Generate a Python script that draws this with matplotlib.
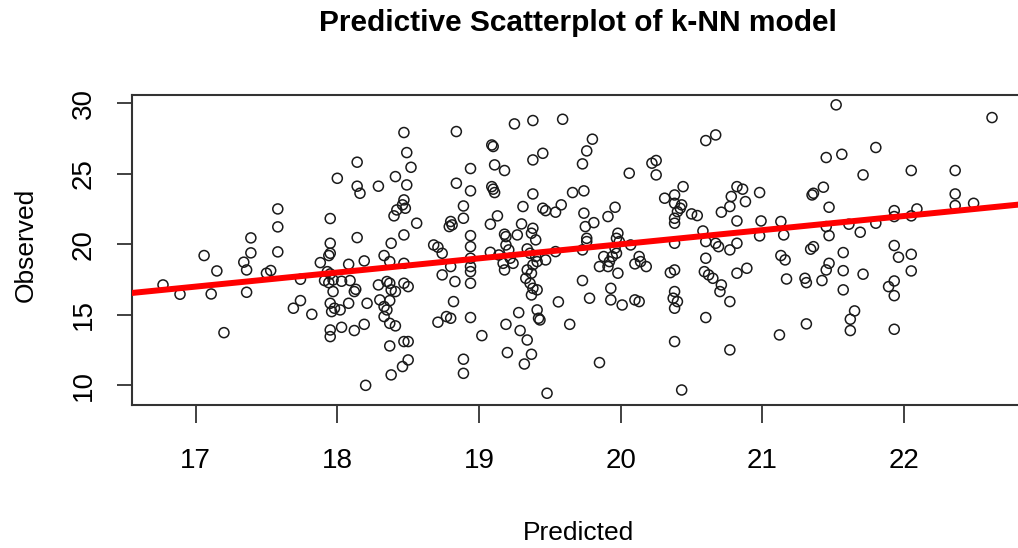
import numpy as np
import matplotlib
matplotlib.use("Agg")
import matplotlib.pyplot as plt

# -----------------------------------------------------------------------------
# Data (predicted vs observed), grouped by x band
# -----------------------------------------------------------------------------
pred_a = [16.77, 16.89, 17.06, 17.15, 17.11, 17.20, 17.34, 17.36, 17.39, 17.39,
          17.36, 17.50, 17.53, 17.58, 17.58, 17.58]
obs_a = [17.12, 16.46, 19.20, 18.11, 16.48, 13.74, 18.73, 18.18, 20.45, 19.39,
         16.60, 17.95, 18.14, 22.50, 21.23, 19.46]

pred_b = [18.47, 18.49, 18.52, 18.14, 18.00, 18.14, 18.16, 18.29, 18.41, 18.49,
          18.47, 18.46, 18.42, 18.40, 18.48, 18.56, 17.95, 18.14, 18.47, 18.38,
          17.95, 17.95, 17.94, 17.88, 18.08, 18.19, 18.33, 18.37, 18.47, 17.74,
          17.93, 17.95, 17.91, 17.94, 17.97, 18.03, 18.09, 18.13, 18.12, 17.97,
          17.95, 17.98, 18.02, 18.08, 17.96, 17.69, 17.74, 17.82, 18.21, 18.29,
          18.30, 18.35, 18.37, 18.38, 18.37, 18.33, 18.35, 18.41, 18.47, 18.50,
          18.33, 18.37, 18.41, 17.95, 17.95, 18.03, 18.12, 18.19, 18.37, 18.47,
          18.50, 18.50, 18.46, 18.38, 18.20]
obs_b = [27.91, 26.49, 25.45, 25.81, 24.67, 24.11, 23.61, 24.11, 24.79, 24.20,
         23.14, 22.79, 22.43, 22.01, 22.55, 21.49, 21.82, 20.47, 20.66, 20.07,
         20.07, 19.36, 19.20, 18.70, 18.58, 18.82, 19.20, 18.77, 18.65, 17.52,
         18.06, 17.90, 17.43, 17.28, 17.47, 17.38, 17.43, 16.81, 16.65, 16.65,
         15.82, 15.47, 15.35, 15.82, 15.23, 15.47, 16.01, 15.04, 15.82, 17.12,
         16.06, 17.36, 17.24, 16.77, 16.01, 15.59, 15.35, 16.65, 17.24, 17.00,
         14.88, 14.40, 14.22, 13.93, 13.46, 14.12, 13.89, 14.33, 12.80, 13.11,
         13.11, 11.81, 11.34, 10.75, 10.01]

pred_c = [18.84, 19.09, 19.10, 19.25, 19.38, 19.59, 19.45, 19.38, 18.94, 19.11,
          19.18, 18.84, 18.94, 19.09, 19.10, 19.11, 19.38, 19.31, 18.89, 18.89,
          18.80, 18.81, 18.79, 19.13, 19.08, 19.45, 19.47, 19.58, 19.54, 19.66,
          19.30, 19.38, 19.37, 19.40, 19.18, 19.19, 19.27, 18.94, 18.94, 18.68,
          18.71, 18.74, 18.74, 18.71, 18.80, 18.94, 18.94, 18.94, 18.83, 18.94,
          18.82, 18.77, 18.80, 18.94, 19.02, 18.89, 18.89, 19.08, 19.14, 19.17,
          19.18, 19.22, 19.24, 19.19, 19.21, 19.34, 19.36, 19.40, 19.41, 19.38,
          19.34, 19.37, 19.33, 19.36, 19.41, 19.37, 19.38, 19.47, 19.54, 19.56,
          19.41, 19.42, 19.43, 19.28, 19.19, 19.29, 19.34, 19.20, 19.37, 19.32,
          19.64, 19.48]
obs_c = [27.98, 27.03, 26.92, 28.52, 28.76, 28.85, 26.44, 25.97, 25.36, 25.62,
         25.22, 24.32, 23.78, 24.08, 23.90, 23.66, 23.56, 22.67, 22.71, 21.84,
         21.61, 21.37, 21.25, 22.01, 21.42, 22.55, 22.38, 22.79, 22.27, 23.66,
         21.44, 21.13, 20.78, 20.31, 20.71, 20.54, 20.66, 20.61, 19.83, 19.95,
         19.79, 19.36, 17.83, 14.48, 18.42, 19.01, 18.42, 18.06, 17.36, 17.24,
         15.94, 14.88, 14.76, 14.81, 13.53, 11.86, 10.86, 19.43, 19.24, 18.65,
         18.18, 19.01, 18.65, 19.95, 19.60, 19.67, 19.36, 19.13, 18.77, 18.54,
         18.18, 17.95, 17.59, 17.24, 16.77, 16.41, 16.88, 18.89, 19.48, 15.92,
         15.35, 14.76, 14.64, 15.16, 14.33, 13.89, 13.22, 12.33, 12.21, 11.52,
         14.33, 9.45]

pred_d = [19.80, 19.76, 19.73, 19.74, 19.74, 19.75, 19.76, 19.76, 19.73, 19.81,
          19.73, 19.78, 19.91, 19.96, 20.06, 20.22, 20.25, 20.25, 20.31, 20.44,
          20.38, 20.38, 20.43, 20.42, 20.38, 20.38, 20.40, 20.50, 20.54, 20.60,
          20.67, 20.71, 20.58, 20.60, 20.67, 20.69, 19.98, 19.97, 19.99, 19.96,
          19.97, 19.94, 19.88, 19.92, 19.85, 19.91, 19.98, 20.07, 20.13, 20.10,
          20.18, 20.14, 19.93, 19.93, 20.01, 20.10, 20.13, 20.35, 20.38, 20.38,
          20.37, 20.40, 20.38, 20.38, 20.43, 19.85, 20.60, 20.59, 20.62, 20.65,
          20.71, 20.70, 20.60, 20.38]
obs_d = [27.44, 26.61, 25.69, 23.78, 22.20, 21.25, 20.42, 20.19, 19.60, 21.53,
         17.43, 16.18, 21.96, 22.62, 25.03, 25.74, 25.93, 24.91, 23.26, 24.08,
         23.49, 22.90, 22.79, 22.55, 21.84, 21.49, 22.31, 22.15, 22.03, 27.34,
         27.74, 22.27, 20.94, 20.19, 20.07, 19.83, 20.78, 20.42, 20.19, 19.72,
         19.36, 19.13, 19.13, 18.77, 18.42, 18.42, 17.95, 19.95, 19.13, 18.61,
         18.42, 18.77, 16.88, 16.06, 15.70, 16.06, 15.94, 17.99, 18.18, 16.65,
         16.18, 15.94, 15.47, 13.11, 9.68, 11.62, 19.01, 18.06, 17.83, 17.59,
         17.12, 16.65, 14.81, 20.07]

pred_e = [20.82, 20.86, 20.78, 20.77, 20.88, 20.82, 20.98, 20.99, 20.98, 20.82,
          20.77, 20.82, 20.89, 20.77, 20.77, 21.52, 21.45, 21.56, 21.71, 21.36,
          21.35, 21.43, 21.47, 21.13, 21.15, 21.45, 21.47, 21.61, 21.69, 21.36,
          21.34, 21.13, 21.16, 21.57, 21.47, 21.45, 21.42, 21.57, 21.57, 21.30,
          21.31, 21.17, 21.71, 21.65, 21.62, 21.62, 21.31, 21.12]
obs_e = [24.08, 23.90, 23.38, 22.67, 23.02, 21.65, 23.66, 21.65, 20.59, 20.07,
         19.60, 17.95, 18.30, 15.94, 12.52, 29.87, 26.14, 26.37, 24.91, 23.61,
         23.49, 24.04, 22.62, 21.61, 20.66, 21.25, 20.61, 21.42, 20.85, 19.83,
         19.65, 19.20, 18.89, 19.41, 18.65, 18.18, 17.43, 18.13, 16.77, 17.59,
         17.28, 17.54, 17.88, 15.28, 14.69, 13.89, 14.36, 13.58]

pred_f = [21.80, 22.05, 22.36, 22.62, 22.36, 22.36, 22.49, 22.09, 22.05, 21.93,
          21.93, 21.80, 21.93, 21.96, 22.05, 22.05, 21.93, 21.89, 21.93, 21.93]
obs_f = [26.85, 25.22, 25.22, 28.97, 23.56, 22.74, 22.90, 22.50, 22.01, 22.38,
         21.96, 21.49, 19.91, 19.08, 19.29, 18.11, 17.40, 17.00, 16.36, 13.98]

# fitted line read from the red abline (observed ~ predicted)
line_intercept = 0.0
line_slope = 1.0

x_ticks = [17, 18, 19, 20, 21, 22]
y_ticks = [10, 15, 20, 25, 30]

predicted = np.concatenate([pred_a, pred_b, pred_c, pred_d, pred_e, pred_f])
observed = np.concatenate([obs_a, obs_b, obs_c, obs_d, obs_e, obs_f])

# -----------------------------------------------------------------------------
# Plot
# -----------------------------------------------------------------------------
plt.rcParams['font.family'] = ['Liberation Sans', 'DejaVu Sans']

fig = plt.figure(figsize=(10.18, 5.48), dpi=100)
ax = fig.add_axes([0.1295, 0.261, 0.877, 0.5657])

ax.scatter(predicted, observed, s=52, facecolors='none', edgecolors='#1a1a1a',
           linewidths=1.1, zorder=2)
ax.axline((0, line_intercept), slope=line_slope, color='red', lw=4.3, zorder=3)

ax.set_xlim(16.55, 22.85)
ax.set_ylim(8.62, 30.57)
ax.set_xticks(x_ticks)
ax.set_yticks(y_ticks)
ax.set_xticklabels([str(v) for v in x_ticks], fontsize=20)
ax.set_yticklabels([str(v) for v in y_ticks], fontsize=20, rotation=90,
                   va='center')
ax.tick_params(axis='x', length=13, width=1.3, color='#333333', pad=18)
ax.tick_params(axis='y', length=11, width=1.3, color='#333333', pad=14)
for sp in ax.spines.values():
  sp.set_color('#333333')
  sp.set_linewidth(1.5)

fig.text(0.568, 0.958, 'Predictive Scatterplot of k-NN model', ha='center',
         va='center', fontsize=21.5, fontweight='bold')
fig.text(0.568, 0.027, 'Predicted', ha='center', va='center', fontsize=19)
fig.text(0.025, 0.554, 'Observed', ha='center', va='center', fontsize=19,
         rotation=90)

fig.savefig('out.png', dpi=100)
